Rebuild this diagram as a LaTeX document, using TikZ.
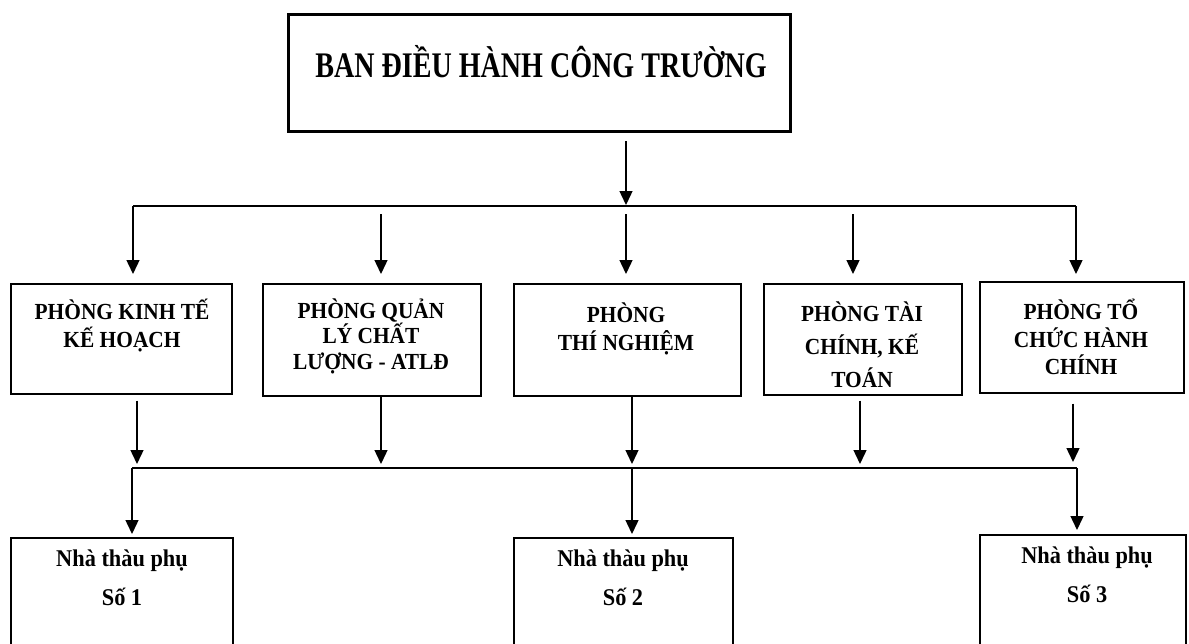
\documentclass[tikz,border=0pt]{standalone}
\usepackage{fontspec}
\setmainfont{Liberation Serif}
\newfontfamily\titlefont{Liberation Serif}[FakeStretch=0.78]
\newfontfamily\deptfont{Liberation Serif}[FakeStretch=0.93]
\usetikzlibrary{arrows.meta,calc}
\begin{document}
\begin{tikzpicture}[x=1pt,y=-1pt,
  box/.style={draw, line width=1.6pt, rectangle, inner sep=0pt, anchor=north west},
  topbox/.style={box, line width=3pt},
  conn/.style={line width=1.4pt},
  arr/.style={conn, -{Triangle[width=13pt,length=14pt]}},
  titletext/.style={font=\titlefont\fontsize{36}{40}\selectfont\bfseries, inner sep=0pt},
  depttext/.style={font=\deptfont\fontsize{23}{28}\selectfont\bfseries, align=center, inner sep=0pt},
  subtext/.style={font=\deptfont\fontsize{24}{39}\selectfont\bfseries, align=center, inner sep=0pt}
]
\useasboundingbox (0,0) rectangle (1189,643);
\clip (0,0) rectangle (1189,643);
\fill[white] (0,0) rectangle (1189,643);

% title
\node[topbox, minimum width=502pt, minimum height=117pt] (top) at (287,13) {};
\node[titletext] (toptext) at (541,62) {BAN ĐIỀU HÀNH CÔNG TRƯỜNG};

% department boxes
\node[box, minimum width=221pt, minimum height=110pt] (b1) at (10,283) {};
\node[box, minimum width=218pt, minimum height=112pt] (b2) at (262,283) {};
\node[box, minimum width=227pt, minimum height=112pt] (b3) at (513,283) {};
\node[box, minimum width=198pt, minimum height=111pt] (b4) at (763,283) {};
\node[box, minimum width=204pt, minimum height=111pt] (b5) at (979,281) {};

\node[depttext] (t1) at (122,326) {PHÒNG KINH TẾ\\KẾ HOẠCH};
\node[depttext, font=\deptfont\fontsize{23}{25.5}\selectfont\bfseries] (t2) at (371,336) {PHÒNG QUẢN\\LÝ CHẤT\\LƯỢNG - ATLĐ};
\node[depttext] (t3) at (626,329) {PHÒNG\\THÍ NGHIỆM};
\node[depttext, font=\deptfont\fontsize{23}{33}\selectfont\bfseries] (t4) at (862,345) {PHÒNG TÀI\\CHÍNH, KẾ\\TOÁN};
\node[depttext, font=\deptfont\fontsize{23}{27.5}\selectfont\bfseries] (t5) at (1081,337) {PHÒNG TỔ\\CHỨC HÀNH\\CHÍNH};

% sub-contractor boxes
\node[box, minimum width=222pt, minimum height=130pt] (r1) at (10,537) {};
\node[box, minimum width=219pt, minimum height=130pt] (r2) at (513,537) {};
\node[box, minimum width=206pt, minimum height=133pt] (r3) at (979,534) {};

\node[subtext] (s1) at (122,578) {Nhà thàu phụ\\Số 1};
\node[subtext] (s2) at (623,578) {Nhà thàu phụ\\Số 2};
\node[subtext] (s3) at (1087,575) {Nhà thàu phụ\\Số 3};

% top bus
\coordinate (d1) at (133,206);
\coordinate (d2) at (381,206);
\coordinate (d3) at (626,206);
\coordinate (d4) at (853,206);
\coordinate (d5) at (1076,206);
\draw[arr, shorten <=8pt, shorten >=1pt] (top.south -| d3) -- (d3);
\draw[conn] (d1) -- (d5);
\draw[arr, shorten >=9pt] (d1) -- (b1.north -| d1);
\draw[arr, shorten <=8pt, shorten >=9pt] (d2) -- (b2.north -| d2);
\draw[arr, shorten <=8pt, shorten >=9pt] (d3) -- (b3.north -| d3);
\draw[arr, shorten <=8pt, shorten >=9pt] (d4) -- (b4.north -| d4);
\draw[arr, shorten >=7pt] (d5) -- (b5.north -| d5);

% lower bus
\coordinate (u1) at (137,468);
\coordinate (u2) at (381,468);
\coordinate (u3) at (632,468);
\coordinate (u4) at (860,468);
\coordinate (u5) at (1073,468);
\draw[arr, shorten <=6pt, shorten >=4pt] (b1.south -| u1) -- (u1);
\draw[arr, shorten >=4pt] (b2.south -| u2) -- (u2);
\draw[arr, shorten >=4pt] (b3.south -| u3) -- (u3);
\draw[arr, shorten <=5pt, shorten >=4pt] (b4.south -| u4) -- (u4);
\draw[arr, shorten <=10pt, shorten >=6pt] (b5.south -| u5) -- (u5);

\coordinate (e1) at (132,468);
\coordinate (e2) at (632,468);
\coordinate (e3) at (1077,468);
\draw[conn] (e1) -- (e3);
\draw[arr, shorten >=3pt] (e1) -- (r1.north -| e1);
\draw[arr, shorten >=3pt] (e2) -- (r2.north -| e2);
\draw[arr, shorten >=4pt] (e3) -- (r3.north -| e3);
\end{tikzpicture}
\end{document}
